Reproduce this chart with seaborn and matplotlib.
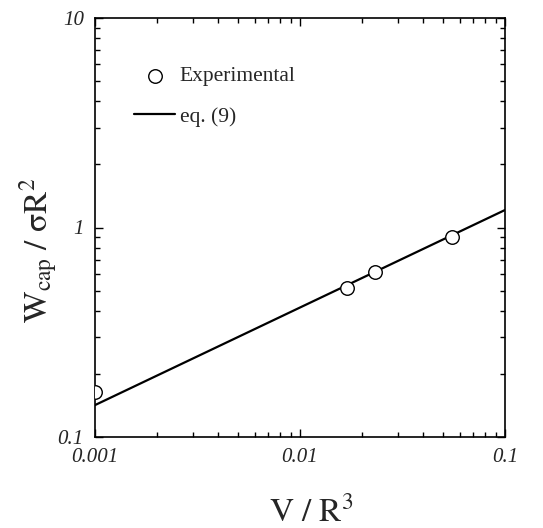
import matplotlib
matplotlib.use("Agg")
import matplotlib.pyplot as plt
import matplotlib.ticker as mticker
import numpy as np
import pandas as pd
import seaborn as sns

# Measured capillary work vs. liquid volume
exp_volume = [0.001, 0.0169, 0.0231, 0.0550]
exp_work = [0.164, 0.513, 0.611, 0.904]

# Prediction of eq. (9)
model_volume = [0.001, 0.01, 0.1]
model_work = [0.142, 0.415, 1.212]

x_ticks = [0.001, 0.01, 0.1]
x_tick_labels = ["0.001", "0.01", "0.1"]
y_ticks = [0.1, 1, 10]
y_tick_labels = ["0.1", "1", "10"]

sns.set_style("ticks")
plt.rcParams["font.family"] = ["Liberation Serif", "DejaVu Serif"]
plt.rcParams["mathtext.fontset"] = "stix"

exp_df = pd.DataFrame({"v": exp_volume, "w": exp_work})
model_df = pd.DataFrame({"v": model_volume, "w": model_work})

fig = plt.figure(figsize=(5.43, 5.28), dpi=100)
ax = fig.add_axes([95 / 543, 1 - 437 / 528, 410 / 543, 419 / 528])

sns.scatterplot(data=exp_df, x="v", y="w", ax=ax, marker="o", s=95,
                facecolor="white", edgecolor="black", linewidth=1.0,
                zorder=3, label="Experimental")
sns.lineplot(data=model_df, x="v", y="w", ax=ax, color="black",
             linewidth=1.6, zorder=2, label="eq. (9)")

ax.set_xscale("log")
ax.set_yscale("log")
ax.set_xlim(0.001, 0.1)
ax.set_ylim(0.1, 10)

ax.xaxis.set_major_locator(mticker.FixedLocator(x_ticks))
ax.xaxis.set_major_formatter(mticker.FixedFormatter(x_tick_labels))
ax.yaxis.set_major_locator(mticker.FixedLocator(y_ticks))
ax.yaxis.set_major_formatter(mticker.FixedFormatter(y_tick_labels))
ax.xaxis.set_minor_locator(mticker.LogLocator(base=10, subs=np.arange(2, 10)))
ax.yaxis.set_minor_locator(mticker.LogLocator(base=10, subs=np.arange(2, 10)))
ax.xaxis.set_minor_formatter(mticker.NullFormatter())
ax.yaxis.set_minor_formatter(mticker.NullFormatter())

ax.tick_params(which="both", direction="in", top=True, right=True,
               color="black", width=1.0)
ax.tick_params(which="major", length=6, pad=8, labelsize=15)
ax.tick_params(which="minor", length=3.5)
for lab in ax.get_xticklabels() + ax.get_yticklabels():
    lab.set_fontstyle("italic")

for sp in ax.spines.values():
    sp.set_linewidth(1.2)
    sp.set_color("black")

ax.set_xlabel(r"$\mathrm{V\ /\ R^3}$", fontsize=24)
ax.set_ylabel(r"$\mathrm{W_{cap}\ /\ \sigma R^2}$", fontsize=24)
ax.xaxis.set_label_coords(0.527, -0.14)
ax.yaxis.set_label_coords(-0.085, 0.446)

ax.legend(loc="upper left", bbox_to_anchor=(0.075, 0.905), frameon=False,
          fontsize=15.5, handlelength=1.9, handletextpad=0.2,
          labelspacing=0.95, borderaxespad=0)

fig.savefig("out.png", dpi=100)
